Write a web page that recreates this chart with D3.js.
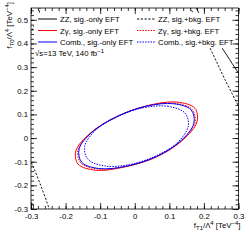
<!DOCTYPE html>
<html>
<head>
<meta charset="utf-8">
<script src="https://cdn.jsdelivr.net/npm/d3@7"></script>
<style>
  body { margin: 0; background: #fff; }
  text { font-family: "Liberation Sans", Arial, sans-serif; }
</style>
</head>
<body>
<div id="chart"></div>
<script>
// tick labels
var xTickValues = [-0.3, -0.2, -0.1, 0, 0.1, 0.2, 0.3];
var yTickValues = [-0.3, -0.2, -0.1, 0, 0.1, 0.2, 0.3, 0.4, 0.5];

// contours, [f_T1, f_T0] pairs
var zgSigOnly = [[0.174,0.126],[0.122,0.152],[0.039,0.138],[-0.053,0.090],[-0.129,0.020],[-0.170,-0.053],
                 [-0.164,-0.110],[-0.112,-0.136],[-0.029,-0.122],[0.063,-0.080],[0.139,-0.008],[0.180,0.069]];
var zgSigBkg = [[0.166,0.121],[0.116,0.147],[0.036,0.136],[-0.053,0.090],[-0.126,0.023],[-0.164,-0.049],
                [-0.156,-0.105],[-0.106,-0.131],[-0.026,-0.120],[0.063,-0.078],[0.136,-0.010],[0.174,0.065]];
var combSigOnly = [[0.163,0.119],[0.113,0.145],[0.034,0.135],[-0.053,0.090],[-0.124,0.024],[-0.161,-0.047],
                   [-0.153,-0.103],[-0.103,-0.129],[-0.024,-0.119],[0.063,-0.078],[0.134,-0.011],[0.171,0.063]];
var combSigBkg = [[0.145,0.106],[0.097,0.134],[0.025,0.128],[-0.053,0.088],[-0.115,0.031],[-0.145,-0.036],
                  [-0.135,-0.090],[-0.087,-0.118],[-0.015,-0.112],[0.063,-0.074],[0.125,-0.017],[0.155,0.052]];
// ZZ contours are mostly outside the frame, only pieces show
var zzSigOnly = [
  [[0.165,0.60],[0.178,0.549],[0.253,0.380],[0.305,0.262],[0.32,0.225]],
  [[-0.31,-0.262],[-0.293,-0.284],[-0.30,-0.32]]
];
var zzSigBkg = [
  [[0.150,0.60],[0.162,0.549],[0.218,0.380],[0.260,0.250],[0.303,0.126],[0.315,0.09]],
  [[-0.31,-0.075],[-0.297,-0.110],[-0.272,-0.200],[-0.249,-0.293],[-0.246,-0.31]],
  [[-0.285,0.60],[-0.274,0.549],[-0.300,0.447],[-0.31,0.42]]
];

var legendLeft = ["ZZ, sig.-only EFT", "Z\u03b3, sig.-only EFT", "Comb., sig.-only EFT"];
var legendRight = ["ZZ, sig.+bkg. EFT", "Z\u03b3, sig.+bkg. EFT", "Comb., sig.+bkg. EFT"];

var W = 249, H = 240;
var frame = {left: 31, right: 238.5, top: 8, bottom: 209};
var fs = 7.8;

var svg = d3.select('#chart').append('svg')
    .attr('width', W)
    .attr('height', H);

var x = d3.scaleLinear().domain([-0.3, 0.3]).range([frame.left, frame.right]);
var y = d3.scaleLinear().domain([-0.3, 0.55]).range([frame.bottom, frame.top]);

svg.append('clipPath').attr('id', 'clip')
    .append('rect')
    .attr('x', frame.left).attr('y', frame.top)
    .attr('width', frame.right - frame.left).attr('height', frame.bottom - frame.top);

var plot = svg.append('g').attr('clip-path', 'url(#clip)');

var ringLine = d3.line().x(function(d){ return x(d[0]); }).y(function(d){ return y(d[1]); })
    .curve(d3.curveCatmullRomClosed.alpha(0.5));
var segLine = d3.line().x(function(d){ return x(d[0]); }).y(function(d){ return y(d[1]); })
    .curve(d3.curveCatmullRom.alpha(0.5));

var dotted = '1.5,1.2';
var dashed = '2.2,1.6';

// ZZ pieces
zzSigBkg.forEach(function(seg){
    plot.append('path').attr('d', segLine(seg))
        .attr('fill', 'none').attr('stroke', '#000').attr('stroke-width', 0.9)
        .attr('stroke-dasharray', dashed);
});
zzSigOnly.forEach(function(seg){
    plot.append('path').attr('d', segLine(seg))
        .attr('fill', 'none').attr('stroke', '#000').attr('stroke-width', 0.9);
});

// Z gamma and combination
plot.append('path').attr('d', ringLine(zgSigOnly))
    .attr('fill', 'none').attr('stroke', '#ff0000').attr('stroke-width', 1);
plot.append('path').attr('d', ringLine(zgSigBkg))
    .attr('fill', 'none').attr('stroke', '#ff0000').attr('stroke-width', 1)
    .attr('stroke-dasharray', dotted);
plot.append('path').attr('d', ringLine(combSigOnly))
    .attr('fill', 'none').attr('stroke', '#0000ff').attr('stroke-width', 1);
plot.append('path').attr('d', ringLine(combSigBkg))
    .attr('fill', 'none').attr('stroke', '#0000ff').attr('stroke-width', 1)
    .attr('stroke-dasharray', dotted);

// legend (white box covers the curves)
var leg = svg.append('g');
leg.append('rect')
    .attr('x', 34).attr('y', 13).attr('width', frame.right - 34).attr('height', 35)
    .attr('fill', '#fff');

var legColors = ['#000', '#ff0000', '#0000ff'];
var rowY = [19, 30.5, 42];
legendLeft.forEach(function(t, i){
    leg.append('line').attr('x1', 38).attr('x2', 57).attr('y1', rowY[i]).attr('y2', rowY[i])
        .attr('stroke', legColors[i]).attr('stroke-width', 1);
    leg.append('text').attr('x', 60).attr('y', rowY[i] + 3).attr('font-size', fs).text(t);
});
legendRight.forEach(function(t, i){
    leg.append('line').attr('x1', 137).attr('x2', 156).attr('y1', rowY[i]).attr('y2', rowY[i])
        .attr('stroke', legColors[i]).attr('stroke-width', 1)
        .attr('stroke-dasharray', i === 0 ? dashed : dotted);
    leg.append('text').attr('x', 158).attr('y', rowY[i] + 3).attr('font-size', fs).text(t);
});

// energy / lumi label
var lumi = svg.append('text').attr('x', 35).attr('y', 55.5).attr('font-size', fs);
lumi.append('tspan').text('\u221as=13 TeV, 140 fb');
lumi.append('tspan').attr('dy', -3).attr('font-size', 6).text('\u22121');

// axes, ROOT style: ticks inside on all four sides
var fmt = function(d){ return String(+d.toFixed(1)); };

function addAxis(axis, tx, ty, labels){
    var g = svg.append('g').attr('transform', 'translate(' + tx + ',' + ty + ')').call(axis);
    g.select('.domain').remove();
    g.selectAll('line').attr('stroke', '#000').attr('stroke-width', 0.8);
    g.selectAll('text').attr('font-size', fs).attr('fill', '#000')
        .style('font-family', '"Liberation Sans", Arial, sans-serif');
    if (!labels) g.selectAll('text').remove();
    return g;
}

var xMinor = x.ticks(30), yMinor = y.ticks(40);

addAxis(d3.axisBottom(x).tickValues(xMinor).tickSize(-3), 0, frame.bottom, false);
addAxis(d3.axisBottom(x).tickValues(xTickValues).tickSize(-6).tickPadding(4).tickFormat(fmt), 0, frame.bottom, true);
addAxis(d3.axisTop(x).tickValues(xMinor).tickSize(-3), 0, frame.top, false);
addAxis(d3.axisTop(x).tickValues(xTickValues).tickSize(-6), 0, frame.top, false);

addAxis(d3.axisLeft(y).tickValues(yMinor).tickSize(-3), frame.left, 0, false);
addAxis(d3.axisLeft(y).tickValues(yTickValues).tickSize(-6).tickPadding(3).tickFormat(fmt), frame.left, 0, true);
addAxis(d3.axisRight(y).tickValues(yMinor).tickSize(-3), frame.right, 0, false);
addAxis(d3.axisRight(y).tickValues(yTickValues).tickSize(-6), frame.right, 0, false);

svg.append('rect')
    .attr('x', frame.left).attr('y', frame.top)
    .attr('width', frame.right - frame.left).attr('height', frame.bottom - frame.top)
    .attr('fill', 'none').attr('stroke', '#000').attr('stroke-width', 0.8);

// axis titles
var xt = svg.append('text').attr('x', 240.5).attr('y', 227.5)
    .attr('text-anchor', 'end').attr('font-size', fs);
xt.append('tspan').text('f');
xt.append('tspan').attr('dy', 2).attr('font-size', 6).text('T1');
xt.append('tspan').attr('dy', -2).text('/\u039b');
xt.append('tspan').attr('dy', -3).attr('font-size', 6).text('4');
xt.append('tspan').attr('dy', 3).text(' [TeV');
xt.append('tspan').attr('dy', -3).attr('font-size', 6).text('\u22124');
xt.append('tspan').attr('dy', 3).text(']');

var yt = svg.append('text').attr('transform', 'translate(12,2) rotate(-90)')
    .attr('text-anchor', 'end').attr('font-size', fs);
yt.append('tspan').text('f');
yt.append('tspan').attr('dy', 2).attr('font-size', 6).text('T0');
yt.append('tspan').attr('dy', -2).text('/\u039b');
yt.append('tspan').attr('dy', -3).attr('font-size', 6).text('4');
yt.append('tspan').attr('dy', 3).text(' [TeV');
yt.append('tspan').attr('dy', -3).attr('font-size', 6).text('\u22124');
yt.append('tspan').attr('dy', 3).text(']');
</script>
</body>
</html>
